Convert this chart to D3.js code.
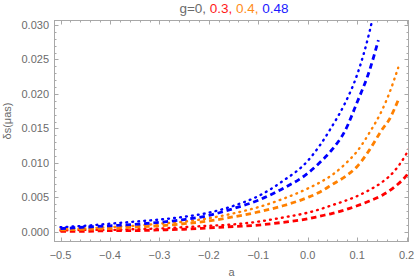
<!DOCTYPE html>
<html><head><meta charset="utf-8">
<script src="https://cdn.jsdelivr.net/npm/d3@7"></script>
<style>body{margin:0;background:#fff}svg{display:block}text{font-family:"Liberation Sans",Arial,sans-serif}</style>
</head><body><div id="chart"></div>
<script>
// ---- data ----
const aGrid = [-0.5,-0.45,-0.4,-0.35,-0.3,-0.25,-0.2,-0.15,-0.1,-0.05,0,0.025,0.05,0.075,0.1,0.125];
const blueDotA = [...aGrid, 0.143];
const blueDotV = [0.0007,0.0009,0.0012,0.0015,0.0018,0.0022,0.0028,0.0038,0.0052,0.0074,0.0103,0.0126,0.0154,0.0186,0.0228,0.0290,0.0350];
const blueDashA = [...aGrid, 0.143];
const blueDashV = [0.0005,0.0007,0.0009,0.0011,0.0014,0.0018,0.0024,0.0034,0.0046,0.0063,0.0085,0.0101,0.0120,0.0146,0.0188,0.0234,0.0278];
const orangeDotA = [...aGrid, 0.15, 0.165, 0.183];
const orangeDotV = [0.0004,0.0005,0.0007,0.0009,0.0012,0.0015,0.0020,0.0027,0.0036,0.0048,0.0063,0.0072,0.0083,0.0098,0.0117,0.0144,0.0176,0.0201,0.0238];
const orangeDashA = [...aGrid, 0.15, 0.165, 0.183];
const orangeDashV = [0.0003,0.0004,0.0005,0.0007,0.0009,0.0012,0.0016,0.0022,0.0029,0.0038,0.0050,0.0058,0.0069,0.0080,0.0095,0.0119,0.0148,0.0163,0.0191];
const redDotA = [...aGrid, 0.15, 0.175, 0.2, 0.21];
const redDotV = [0.0002,0.0003,0.0003,0.0004,0.0005,0.0007,0.0009,0.0011,0.0015,0.0021,0.0028,0.0033,0.0039,0.0045,0.0052,0.0061,0.0072,0.0088,0.0114,0.0128];
const redDashA = [...aGrid, 0.15, 0.175, 0.2, 0.21];
const redDashV = [0.0001,0.0001,0.0002,0.0002,0.0003,0.0004,0.0006,0.0008,0.0010,0.0014,0.0019,0.0023,0.0027,0.0032,0.0038,0.0045,0.0053,0.0065,0.0082,0.0092];

const xTicks = [-0.5,-0.4,-0.3,-0.2,-0.1,0.0,0.1,0.2];
const xTickLabels = ["\u22120.5","\u22120.4","\u22120.3","\u22120.2","\u22120.1","0.0","0.1","0.2"];
const yTicks = [0,0.005,0.01,0.015,0.02,0.025,0.03];
const yTickLabels = ["0.000","0.005","0.010","0.015","0.020","0.025","0.030"];
const titleParts = [{t:"g=0, ",c:"#6b6b6b"},{t:"0.3, ",c:"#ff1a1a"},{t:"0.4, ",c:"#ff8c1a"},{t:"0.48",c:"#1a1aff"}];

const series = [
  {a:redDotA, v:redDotV, color:"#ff0000", style:"dot"},
  {a:redDashA, v:redDashV, color:"#ff0000", style:"dash"},
  {a:orangeDotA, v:orangeDotV, color:"#ff8000", style:"dot"},
  {a:orangeDashA, v:orangeDashV, color:"#ff8000", style:"dash"},
  {a:blueDotA, v:blueDotV, color:"#0000ff", style:"dot"},
  {a:blueDashA, v:blueDashV, color:"#0000ff", style:"dash"},
];

// ---- layout ----
const W=415,H=280;
const L=54,R=409,T=20,B=242;
const x = d3.scaleLinear().domain([-0.5132,0.2049]).range([L,R]);
const y = d3.scaleLinear().domain([-0.00145,0.03072]).range([B,T]);
const frameColor="#a8a8a8", labelColor="#6b6b6b";

const svg=d3.select("#chart").append("svg").attr("width",W).attr("height",H);
svg.append("defs").append("clipPath").attr("id","clip").append("rect")
  .attr("x",L).attr("y",T).attr("width",R-L).attr("height",B-T);

// curves
const line = d3.line().x(d=>x(d[0])).y(d=>y(d[1])).curve(d3.curveMonotoneX);
const g=svg.append("g").attr("clip-path","url(#clip)");
series.forEach(s=>{
  const pts=s.a.map((a,i)=>[a,s.v[i]]);
  g.append("path").attr("d",line(pts)).attr("fill","none").attr("stroke",s.color)
   .attr("stroke-width", s.style==="dot"?2.4:2.8)
   .attr("stroke-linecap", s.style==="dot"?"round":"butt")
   .attr("stroke-dasharray", s.style==="dot"?"0.8,5.2":"5.5,3.8");
});

// frame
svg.append("rect").attr("x",L+0.5).attr("y",T+0.5).attr("width",R-L-1).attr("height",B-T-1)
  .attr("fill","none").attr("stroke",frameColor).attr("stroke-width",1);

// ticks
const xMinor=d3.range(-0.5,0.2001,0.02).filter(t=>t>x.domain()[0]&&t<x.domain()[1]);
const yMinor=d3.range(0,0.0301,0.001);
const tk=svg.append("g").attr("stroke",frameColor).attr("stroke-width",1);
function isMajor(v,list){return list.some(m=>Math.abs(m-v)<1e-9);}
xMinor.forEach(t=>{
  const len=isMajor(t,xTicks)?4.5:2.5, px=Math.round(x(t))+0.5;
  tk.append("line").attr("x1",px).attr("x2",px).attr("y1",B).attr("y2",B-len);
  tk.append("line").attr("x1",px).attr("x2",px).attr("y1",T).attr("y2",T+len);
});
yMinor.forEach(t=>{
  const len=isMajor(t,yTicks)?4.5:2.5, py=Math.round(y(t))+0.5;
  tk.append("line").attr("y1",py).attr("y2",py).attr("x1",L).attr("x2",L+len);
  tk.append("line").attr("y1",py).attr("y2",py).attr("x1",R).attr("x2",R-len);
});

// tick labels
svg.append("g").selectAll("text").data(xTicks).join("text")
  .attr("x",d=>x(d)).attr("y",B+17).attr("text-anchor","middle")
  .attr("font-size",11).attr("fill",labelColor).text((d,i)=>xTickLabels[i]);
svg.append("g").selectAll("text").data(yTicks).join("text")
  .attr("x",L-5).attr("y",d=>y(d)+4).attr("text-anchor","end")
  .attr("font-size",11).attr("fill",labelColor).text((d,i)=>yTickLabels[i]);

// axis labels
svg.append("text").attr("x",(L+R)/2).attr("y",276).attr("text-anchor","middle")
  .attr("font-size",11).attr("fill",labelColor).text("a");
svg.append("text").attr("transform","translate(11,121) rotate(-90)").attr("text-anchor","middle")
  .attr("font-size",11).attr("fill",labelColor).text("\u03b4s(\u03bcas)");

// title
const title=svg.append("text").attr("x",234).attr("y",13).attr("text-anchor","middle").attr("font-size",13.5);
titleParts.forEach(p=>title.append("tspan").attr("fill",p.c).text(p.t));
</script></body></html>
